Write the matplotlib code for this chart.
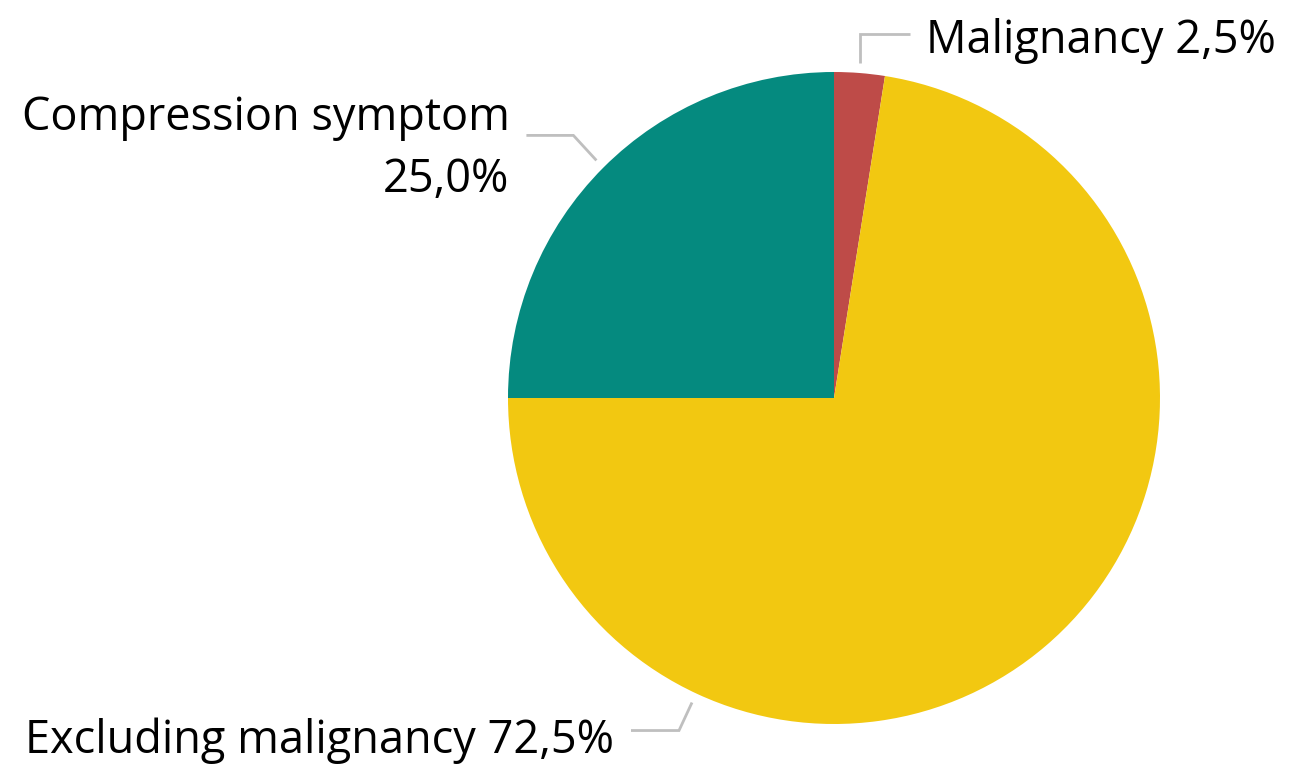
import numpy as np
import matplotlib.pyplot as plt

plt.rcParams["font.family"] = ["Open Sans", "DejaVu Sans"]

categories = ["Malignancy", "Excluding malignancy", "Compression symptom"]
shares = [2.5, 72.5, 25.0]
colors = ["#BE4B48", "#F2C811", "#058A7F"]

W, H = 1292, 770
cx, cy, radius = 834, H - 398, 326

fig = plt.figure(figsize=(W / 100, H / 100), dpi=100)
ax = fig.add_axes([0, 0, 1, 1])
ax.set_xlim(0, W)
ax.set_ylim(0, H)
ax.axis("off")

wedges, _ = ax.pie(
    shares,
    colors=colors,
    startangle=90,
    counterclock=False,
    center=(cx, cy),
    radius=radius,
    wedgeprops=dict(linewidth=0),
)
ax.set_xlim(0, W)
ax.set_ylim(0, H)


def fmt(v):
    return f"{v:.1f}%".replace(".", ",")


# label layout: angle of leader start, elbow offset, horizontal run, text placement
line_color = "#BFBFBF"
fs = 32.5


def leader(angle, elbow, run):
    a = np.deg2rad(angle)
    x0 = cx + (radius + 10) * np.cos(a)
    y0 = cy + (radius + 10) * np.sin(a)
    x1, y1 = x0 + elbow[0], y0 + elbow[1]
    x2 = x1 + run
    ax.plot([x0, x1, x2], [y0, y1, y1], color=line_color, lw=2.0,
            solid_capstyle="butt", solid_joinstyle="miter")
    return x2, y1


# Malignancy
mid = 90 - shares[0] / 100 * 360 / 2
x2, y1 = leader(mid, (0, 29), 50)
ax.text(x2 + 16, H - 53, f"{categories[0]} {fmt(shares[0])}",
        ha="left", va="baseline", fontsize=fs, color="black")

# Compression symptom
mid = 90 + shares[2] / 100 * 360 / 2
x2, y1 = leader(mid, (-23, 25), -47)
ax.text(x2 - 17, H - 130, categories[2], ha="right", va="baseline",
        fontsize=fs, color="black")
ax.text(x2 - 17, H - 192, fmt(shares[2]), ha="right", va="baseline",
        fontsize=fs, color="black")

# Excluding malignancy
x2, y1 = leader(-115, (-13, -28), -48)
ax.text(x2 - 17, H - 753, f"{categories[1]} {fmt(shares[1])}",
        ha="right", va="baseline", fontsize=fs, color="black")

fig.savefig("out.png", dpi=100)
